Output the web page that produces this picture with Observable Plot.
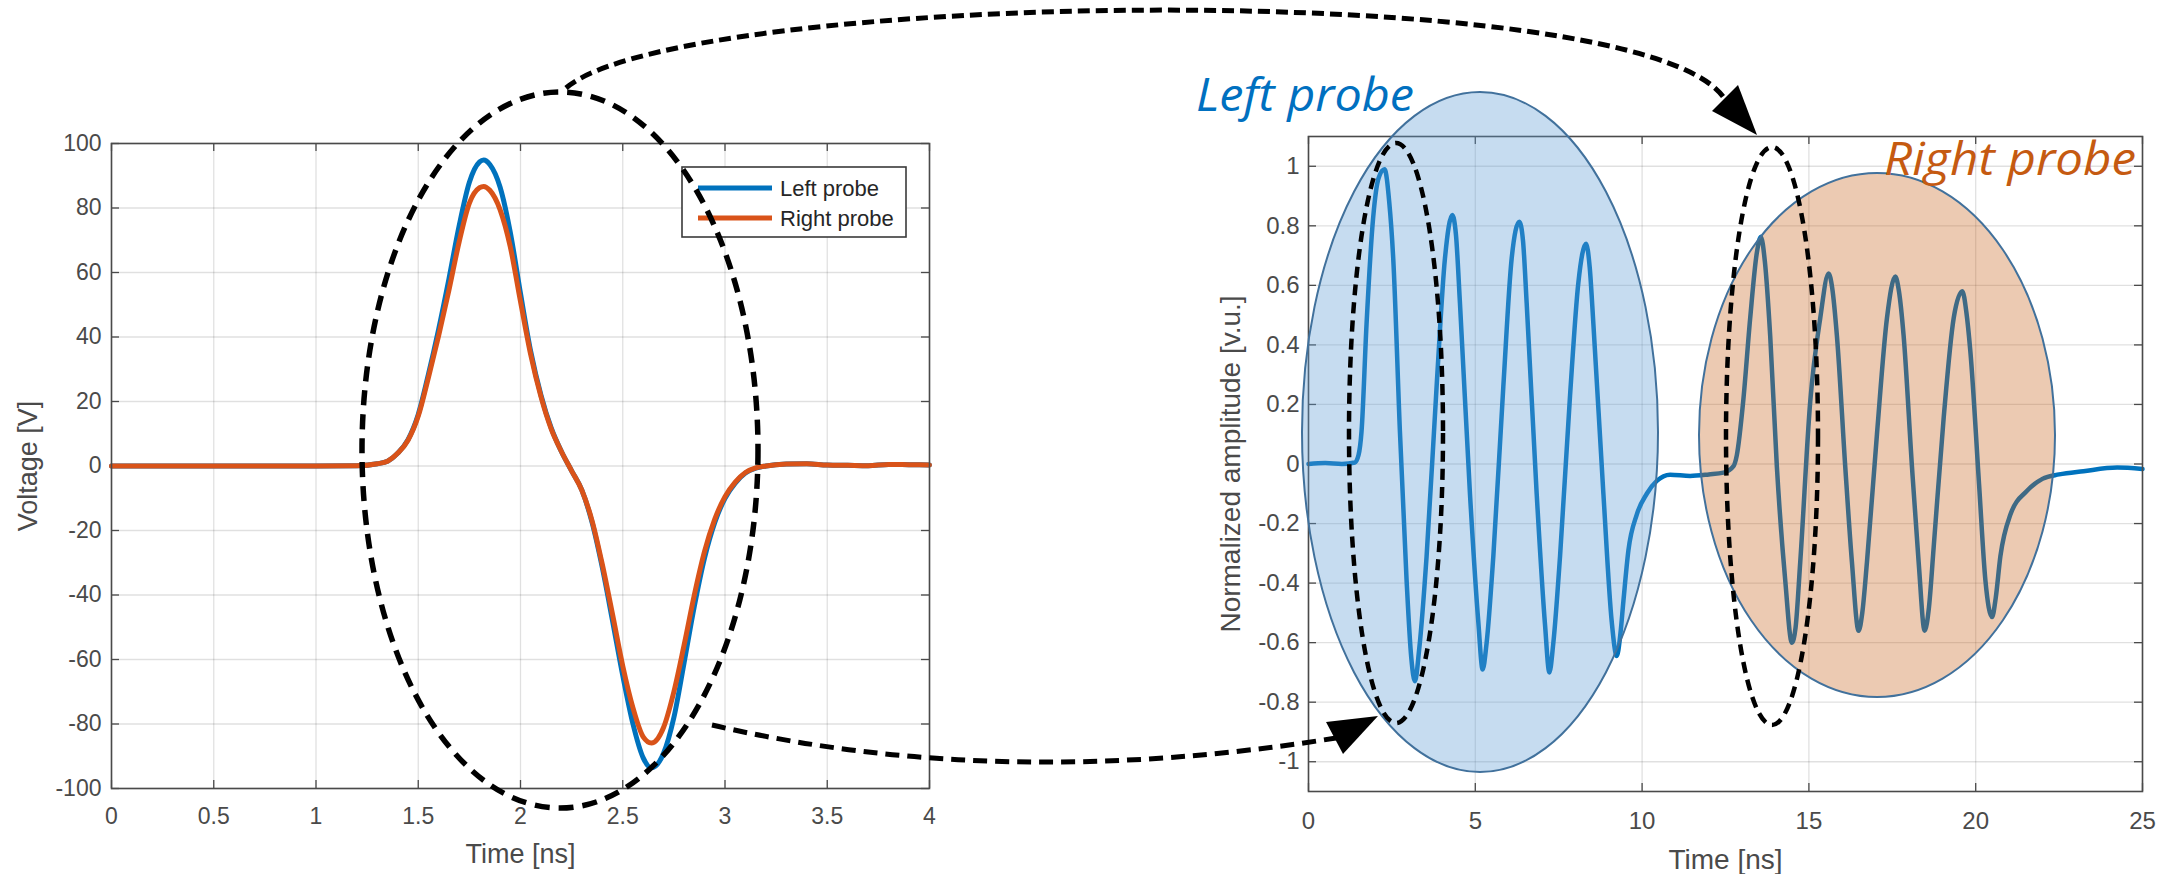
<!DOCTYPE html>
<html>
<head>
<meta charset="utf-8">
<script src="https://cdn.jsdelivr.net/npm/d3@7"></script>
<script src="https://cdn.jsdelivr.net/npm/@observablehq/plot@0.6"></script>
<style>
  html, body { margin: 0; padding: 0; background: #fff; }
  #wrap { position: relative; width: 2175px; height: 874px; overflow: hidden; background: #fff; }
  #wrap > div, #wrap > svg { position: absolute; top: 0; }
</style>
</head>
<body>
<div id="wrap">
  <div id="leftChart" style="left:0px"></div>
  <div id="rightChart" style="left:1180px"></div>
</div>
<script>
// ---------------- data: left chart (Voltage vs time) ----------------
const leftTime = [0, 0.5, 1.0, 1.2, 1.3, 1.35, 1.4, 1.45, 1.5, 1.55, 1.6, 1.65, 1.7, 1.75, 1.8, 1.82, 1.85, 1.9, 1.95, 2.0,
  2.05, 2.1, 2.15, 2.2, 2.25, 2.3, 2.35, 2.4, 2.45, 2.5, 2.55, 2.6, 2.64, 2.7, 2.75, 2.8, 2.85, 2.9, 2.95, 3.0,
  3.05, 3.1, 3.15, 3.2, 3.3, 3.4, 3.5, 3.6, 3.7, 3.8, 3.9, 4.0];
const leftProbeVoltage = [0, 0, 0, 0.1, 0.7, 1.5, 4, 8.2, 16, 28.5, 42.5, 58, 74.5, 88, 94.3, 94.9, 93.5, 86.5, 72.5, 53.5,
  35.5, 22, 11.8, 4.5, -1.5, -7.5, -17.5, -31.5, -48, -65, -80, -90.5, -93.6, -89, -78, -61, -43.5, -28.5, -17.5, -10,
  -5.3, -2.2, -0.7, 0, 0.6, 0.7, 0.3, 0.2, 0.1, 0.5, 0.4, 0.3];
const rightProbeVoltage = [0, 0, 0, 0.1, 0.7, 1.5, 4, 8, 15.5, 27.5, 40.5, 54.5, 69.5, 81.5, 86.3, 86.7, 85.5, 79.5, 68, 51,
  34.5, 21.5, 11.5, 4.5, -1.5, -7.5, -17, -30.5, -46, -62, -75, -84, -85.9, -81, -70, -55.5, -40, -26.5, -16.5, -9.5,
  -5, -2, -0.6, 0, 0.6, 0.7, 0.3, 0.2, 0.1, 0.5, 0.4, 0.3];
const seriesNames = ["Left probe", "Right probe"];
const leftXTicks = [0, 0.5, 1, 1.5, 2, 2.5, 3, 3.5, 4];
const leftYTicks = [-100, -80, -60, -40, -20, 0, 20, 40, 60, 80, 100];

// ---------------- data: right chart (normalized amplitude) ----------------
const ampTime = [0, 0.5, 1.0, 1.39, 1.5, 1.59, 1.74, 1.94, 2.1, 2.28, 2.42, 2.54, 2.74, 2.94, 3.08, 3.19, 3.32, 3.54, 3.84, 4.09,
  4.31, 4.42, 4.54, 4.84, 5.09, 5.22, 5.34, 5.54, 5.84, 6.09, 6.32, 6.43, 6.54, 6.84, 7.09, 7.22, 7.34, 7.54, 7.84, 8.09,
  8.32, 8.43, 8.54, 8.84, 9.09, 9.24, 9.35, 9.44, 9.59, 9.84, 10.14, 10.44, 10.84, 11.44, 12.0, 12.44, 12.74, 12.84, 13.03, 13.24,
  13.44, 13.56, 13.68, 13.84, 14.04, 14.29, 14.49, 14.6, 14.74, 15.04, 15.34, 15.59, 15.7, 15.84, 16.09, 16.29, 16.49, 16.6, 16.74, 17.04,
  17.34, 17.59, 17.7, 17.84, 18.09, 18.29, 18.47, 18.6, 18.74, 19.04, 19.34, 19.6, 19.72, 19.84, 20.1, 20.29, 20.49, 20.6, 20.74, 21.04,
  21.54, 22.0, 22.5, 23.23, 24.24, 25];
const ampValue = [0, 0.003, 0, 0.005, 0.03, 0.11, 0.47, 0.83, 0.96, 0.99, 0.88, 0.69, 0.11, -0.39, -0.65, -0.73, -0.62, -0.31, 0.26, 0.69,
  0.836, 0.77, 0.54, -0.1, -0.53, -0.69, -0.6, -0.31, 0.26, 0.69, 0.814, 0.75, 0.54, -0.1, -0.54, -0.70, -0.6, -0.31, 0.23, 0.61,
  0.74, 0.66, 0.47, -0.1, -0.53, -0.645, -0.57, -0.46, -0.29, -0.17, -0.1, -0.057, -0.036, -0.04, -0.035, -0.029, -0.007, 0.03, 0.21, 0.49,
  0.71, 0.763, 0.68, 0.43, -0.01, -0.39, -0.60, -0.55, -0.33, 0.21, 0.49, 0.64, 0.59, 0.43, -0.01, -0.33, -0.56, -0.5, -0.33, 0.1,
  0.49, 0.63, 0.58, 0.43, -0.01, -0.33, -0.56, -0.48, -0.28, 0.155, 0.49, 0.58, 0.51, 0.378, -0.067, -0.39, -0.514, -0.45, -0.31, -0.17,
  -0.09, -0.05, -0.035, -0.024, -0.012, -0.017];
const rightXTicks = [0, 5, 10, 15, 20, 25];
const rightYTicks = [-1, -0.8, -0.6, -0.4, -0.2, 0, 0.2, 0.4, 0.6, 0.8, 1];

// ---------------- styles ----------------
const C_LEFT = "#0072BD", C_RIGHT = "#D95319";
const TXT = "#4a4a4a", AXIS = "#4a4a4a";
const FONT = "'Liberation Sans', Arial, Helvetica, sans-serif";
const fmt = d => String(+d.toFixed(2)); // hyphen minus like MATLAB

function matlabAxes({xTicks, yTicks, innerW, innerH, xLabel, yLabel, xLabelDy, yLabelDx, tickFont, labelFont, xPad, yPad}) {
  const tl = 8;
  return [
    Plot.gridX(xTicks, {stroke: "#000", strokeOpacity: 0.12, strokeWidth: 1.3}),
    Plot.gridY(yTicks, {stroke: "#000", strokeOpacity: 0.12, strokeWidth: 1.3}),
    Plot.tickX(xTicks, {x: d => d, insetTop: innerH - tl, stroke: AXIS, strokeWidth: 1.3}),
    Plot.tickX(xTicks, {x: d => d, insetBottom: innerH - tl, stroke: AXIS, strokeWidth: 1.3}),
    Plot.tickY(yTicks, {y: d => d, insetRight: innerW - tl, stroke: AXIS, strokeWidth: 1.3}),
    Plot.tickY(yTicks, {y: d => d, insetLeft: innerW - tl, stroke: AXIS, strokeWidth: 1.3}),
    Plot.axisX({ticks: xTicks, tickSize: 0, tickPadding: xPad, tickFormat: fmt, fontSize: tickFont, label: null, fill: TXT}),
    Plot.axisY({ticks: yTicks, tickSize: 0, tickPadding: yPad, tickFormat: fmt, fontSize: tickFont, label: null, fill: TXT}),
    Plot.text([xLabel], {text: d => d, frameAnchor: "bottom", dy: xLabelDy, textAnchor: "middle", lineAnchor: "middle", fontSize: labelFont, fill: TXT}),
    Plot.text([yLabel], {text: d => d, frameAnchor: "left", dx: yLabelDx, rotate: -90, textAnchor: "middle", lineAnchor: "middle", fontSize: labelFont, fill: TXT})
  ];
}

// ---------------- left chart ----------------
const leftData = leftTime.map((t, i) => ({t, left: leftProbeVoltage[i], right: rightProbeVoltage[i]}));
{
  const W = 960, H = 874, mL = 111, mR = 31, mT = 143, mB = 86;
  const chart = Plot.plot({
    width: W, height: H, marginLeft: mL, marginRight: mR, marginTop: mT, marginBottom: mB,
    style: {fontFamily: FONT, background: "transparent", color: TXT},
    x: {domain: [0, 4]},
    y: {domain: [-100, 100]},
    marks: [
      ...matlabAxes({xTicks: leftXTicks, yTicks: leftYTicks, innerW: W - mL - mR, innerH: H - mT - mB,
        xLabel: "Time [ns]", yLabel: "Voltage [V]", xLabelDy: 66, yLabelDx: -83, tickFont: 23, labelFont: 27, xPad: 19, yPad: 10}),
      Plot.line(leftData, {x: "t", y: "left", stroke: C_LEFT, strokeWidth: 5, curve: "monotone-x"}),
      Plot.line(leftData, {x: "t", y: "right", stroke: C_RIGHT, strokeWidth: 5, curve: "monotone-x"}),
      Plot.frame({stroke: AXIS, strokeWidth: 1.6})
    ]
  });
  document.getElementById("leftChart").appendChild(chart);
}

// ---------------- right chart ----------------
const ampData = ampTime.map((t, i) => ({t, v: ampValue[i]}));
{
  const W = 995, H = 874, mL = 128, mR = 33, mT = 136, mB = 83;
  const chart = Plot.plot({
    width: W, height: H, marginLeft: mL, marginRight: mR, marginTop: mT, marginBottom: mB,
    style: {fontFamily: FONT, background: "transparent", color: TXT},
    x: {domain: [0, 25]},
    y: {domain: [-1.1, 1.1]},
    marks: [
      ...matlabAxes({xTicks: rightXTicks, yTicks: rightYTicks, innerW: W - mL - mR, innerH: H - mT - mB,
        xLabel: "Time [ns]", yLabel: "Normalized amplitude [v.u.]", xLabelDy: 69, yLabelDx: -77, tickFont: 24, labelFont: 28, xPad: 20, yPad: 9}),
      Plot.line(ampData, {x: "t", y: "v", stroke: C_LEFT, strokeWidth: 4.5, curve: "monotone-x"}),
      Plot.frame({stroke: AXIS, strokeWidth: 1.6})
    ]
  });
  document.getElementById("rightChart").appendChild(chart);
}

// ---------------- annotation overlay ----------------
const svg = d3.select("#wrap").append("svg")
  .attr("width", 2175).attr("height", 874)
  .style("left", "0px").style("pointer-events", "none");

// legend of left chart
const lg = svg.append("g");
lg.append("rect").attr("x", 682).attr("y", 167).attr("width", 224).attr("height", 70)
  .attr("fill", "#fff").attr("stroke", "#3a3a3a").attr("stroke-width", 1.6);
seriesNames.forEach((name, i) => {
  const y = 188 + i * 30;
  lg.append("line").attr("x1", 698).attr("x2", 772).attr("y1", y).attr("y2", y)
    .attr("stroke", i === 0 ? C_LEFT : C_RIGHT).attr("stroke-width", 5);
  lg.append("text").attr("x", 780).attr("y", y).attr("dy", "0.36em")
    .attr("font-family", FONT).attr("font-size", 22).attr("fill", "#262626").text(name);
});

// shaded ellipses on right chart
svg.append("ellipse").attr("cx", 1480).attr("cy", 432).attr("rx", 178).attr("ry", 340)
  .attr("fill", "#5B9BD5").attr("fill-opacity", 0.35).attr("stroke", "#41719C").attr("stroke-width", 2);
svg.append("ellipse").attr("cx", 1877).attr("cy", 435).attr("rx", 178).attr("ry", 262)
  .attr("fill", "#C55A11").attr("fill-opacity", 0.32).attr("stroke", "#41719C").attr("stroke-width", 2);

// labels
svg.append("text").attr("x", 1196).attr("y", 111).attr("font-family", "'Open Sans', 'Noto Sans', sans-serif")
  .attr("font-style", "italic").attr("font-size", 46).attr("fill", "#0070C0")
  .attr("textLength", 218).attr("lengthAdjust", "spacingAndGlyphs").text("Left probe");
svg.append("text").attr("x", 1884).attr("y", 175).attr("font-family", "'Open Sans', 'Noto Sans', sans-serif")
  .attr("font-style", "italic").attr("font-size", 46).attr("fill", "#C55A11")
  .attr("textLength", 252).attr("lengthAdjust", "spacingAndGlyphs").text("Right probe");

// dashed ellipses
svg.append("ellipse").attr("cx", 560).attr("cy", 450).attr("rx", 198).attr("ry", 358)
  .attr("stroke", "#000").attr("fill", "none").attr("stroke-width", 5.5).attr("stroke-dasharray", "15 9");
svg.append("ellipse").attr("cx", 1396).attr("cy", 433).attr("rx", 47).attr("ry", 290)
  .attr("stroke", "#000").attr("fill", "none").attr("stroke-width", 4.5).attr("stroke-dasharray", "11 7");
svg.append("ellipse").attr("cx", 1772).attr("cy", 436).attr("rx", 46).attr("ry", 289)
  .attr("stroke", "#000").attr("fill", "none").attr("stroke-width", 4.5).attr("stroke-dasharray", "11 7");

// dashed arrows
svg.append("path").attr("d", "M566,88 C680,-10 1640,-25 1724,98")
  .attr("stroke", "#000").attr("fill", "none").attr("stroke-width", 5).attr("stroke-dasharray", "12 6");
svg.append("path").attr("d", "M1712,111 L1738,85 L1757,135 Z").attr("fill", "#000");
svg.append("path").attr("d", "M712,725 Q1000,792 1336,738")
  .attr("stroke", "#000").attr("fill", "none").attr("stroke-width", 5).attr("stroke-dasharray", "14 8");
svg.append("path").attr("d", "M1326,722 L1343,754 L1378,716 Z").attr("fill", "#000");
</script>
</body>
</html>
